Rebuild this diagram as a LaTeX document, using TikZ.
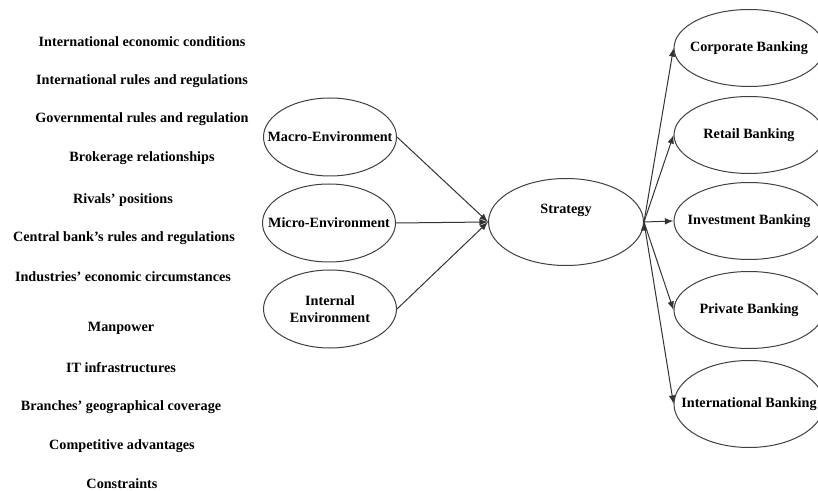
\documentclass[tikz,border=0pt]{standalone}
\usepackage{fontspec}
\setmainfont{Liberation Serif}
\usetikzlibrary{shapes.geometric}
\begin{document}
\begin{tikzpicture}[x=0.5pt, y=-0.5pt, >=latex,
	every node/.style={font=\fontsize{7.1}{8.2}\selectfont\bfseries},
	factor/.style={inner sep=0pt},
	env/.style={ellipse, draw=black!75, line width=0.5pt, inner sep=0pt, minimum width=66.5pt, minimum height=39pt},
	bank/.style={ellipse, draw=black!75, line width=0.5pt, inner sep=0pt, minimum width=75pt, minimum height=38.5pt},
	link/.style={->, draw=black!80, line width=0.5pt}]
	\useasboundingbox (0,0) rectangle (818,491);
	% external and internal factors
	\node (icond) at (142,42) [factor] {International economic conditions};
	\node (irules) at (142,81) [factor] {International rules and regulations};
	\node (govrules) at (142,119) [factor] {Governmental rules and regulation};
	\node (broker) at (142,158) [factor] {Brokerage relationships};
	\node (rivals) at (123,200) [factor] {Rivals' positions};
	\node (cbrules) at (124,238) [factor] {Central bank's rules and regulations};
	\node (industry) at (123,277) [factor] {Industries' economic circumstances};
	\node (manpower) at (121,328) [factor] {Manpower};
	\node (itinfra) at (121,368) [factor] {IT infrastructures};
	\node (branches) at (121,407) [factor] {Branches' geographical coverage};
	\node (compadv) at (122,446) [factor] {Competitive advantages};
	\node (constraints) at (122,484) [factor] {Constraints};
	% environments and strategy
	\node (strategy) at (566,222) [env, minimum width=77.5pt, minimum height=43.5pt, label={[yshift=6pt]center:Strategy}] {};
	\node (macro) at (330,137) [env, label=center:Macro-Environment] {};
	\node (micro) at (329,223) [env, label=center:Micro-Environment] {};
	\node (internal) at (330,309) [env, label={[align=center]center:Internal\\Environment}] {};
	\draw [link] (macro.east) -- (strategy.west);
	\draw [link] (micro.east) -- (strategy.west);
	\draw [link] (internal.east) -- (strategy.west);
	% banking lines
	\node (corp) at (749,48) [bank, label=center:Corporate Banking] {};
	\node (retail) at (749,135) [bank, label=center:Retail Banking] {};
	\node (invest) at (749,221) [bank, label=center:Investment Banking] {};
	\node (private) at (749,310) [bank, label=center:Private Banking] {};
	\node (intl) at (749,404) [bank, minimum height=43.5pt, label=center:International Banking] {};
	\draw [link] (strategy.east) edge [link] (corp.west) edge [link] (retail.west)
		edge [link] (invest.west) edge [link] (private.west) edge [link] (intl.west);
\end{tikzpicture}
\end{document}
